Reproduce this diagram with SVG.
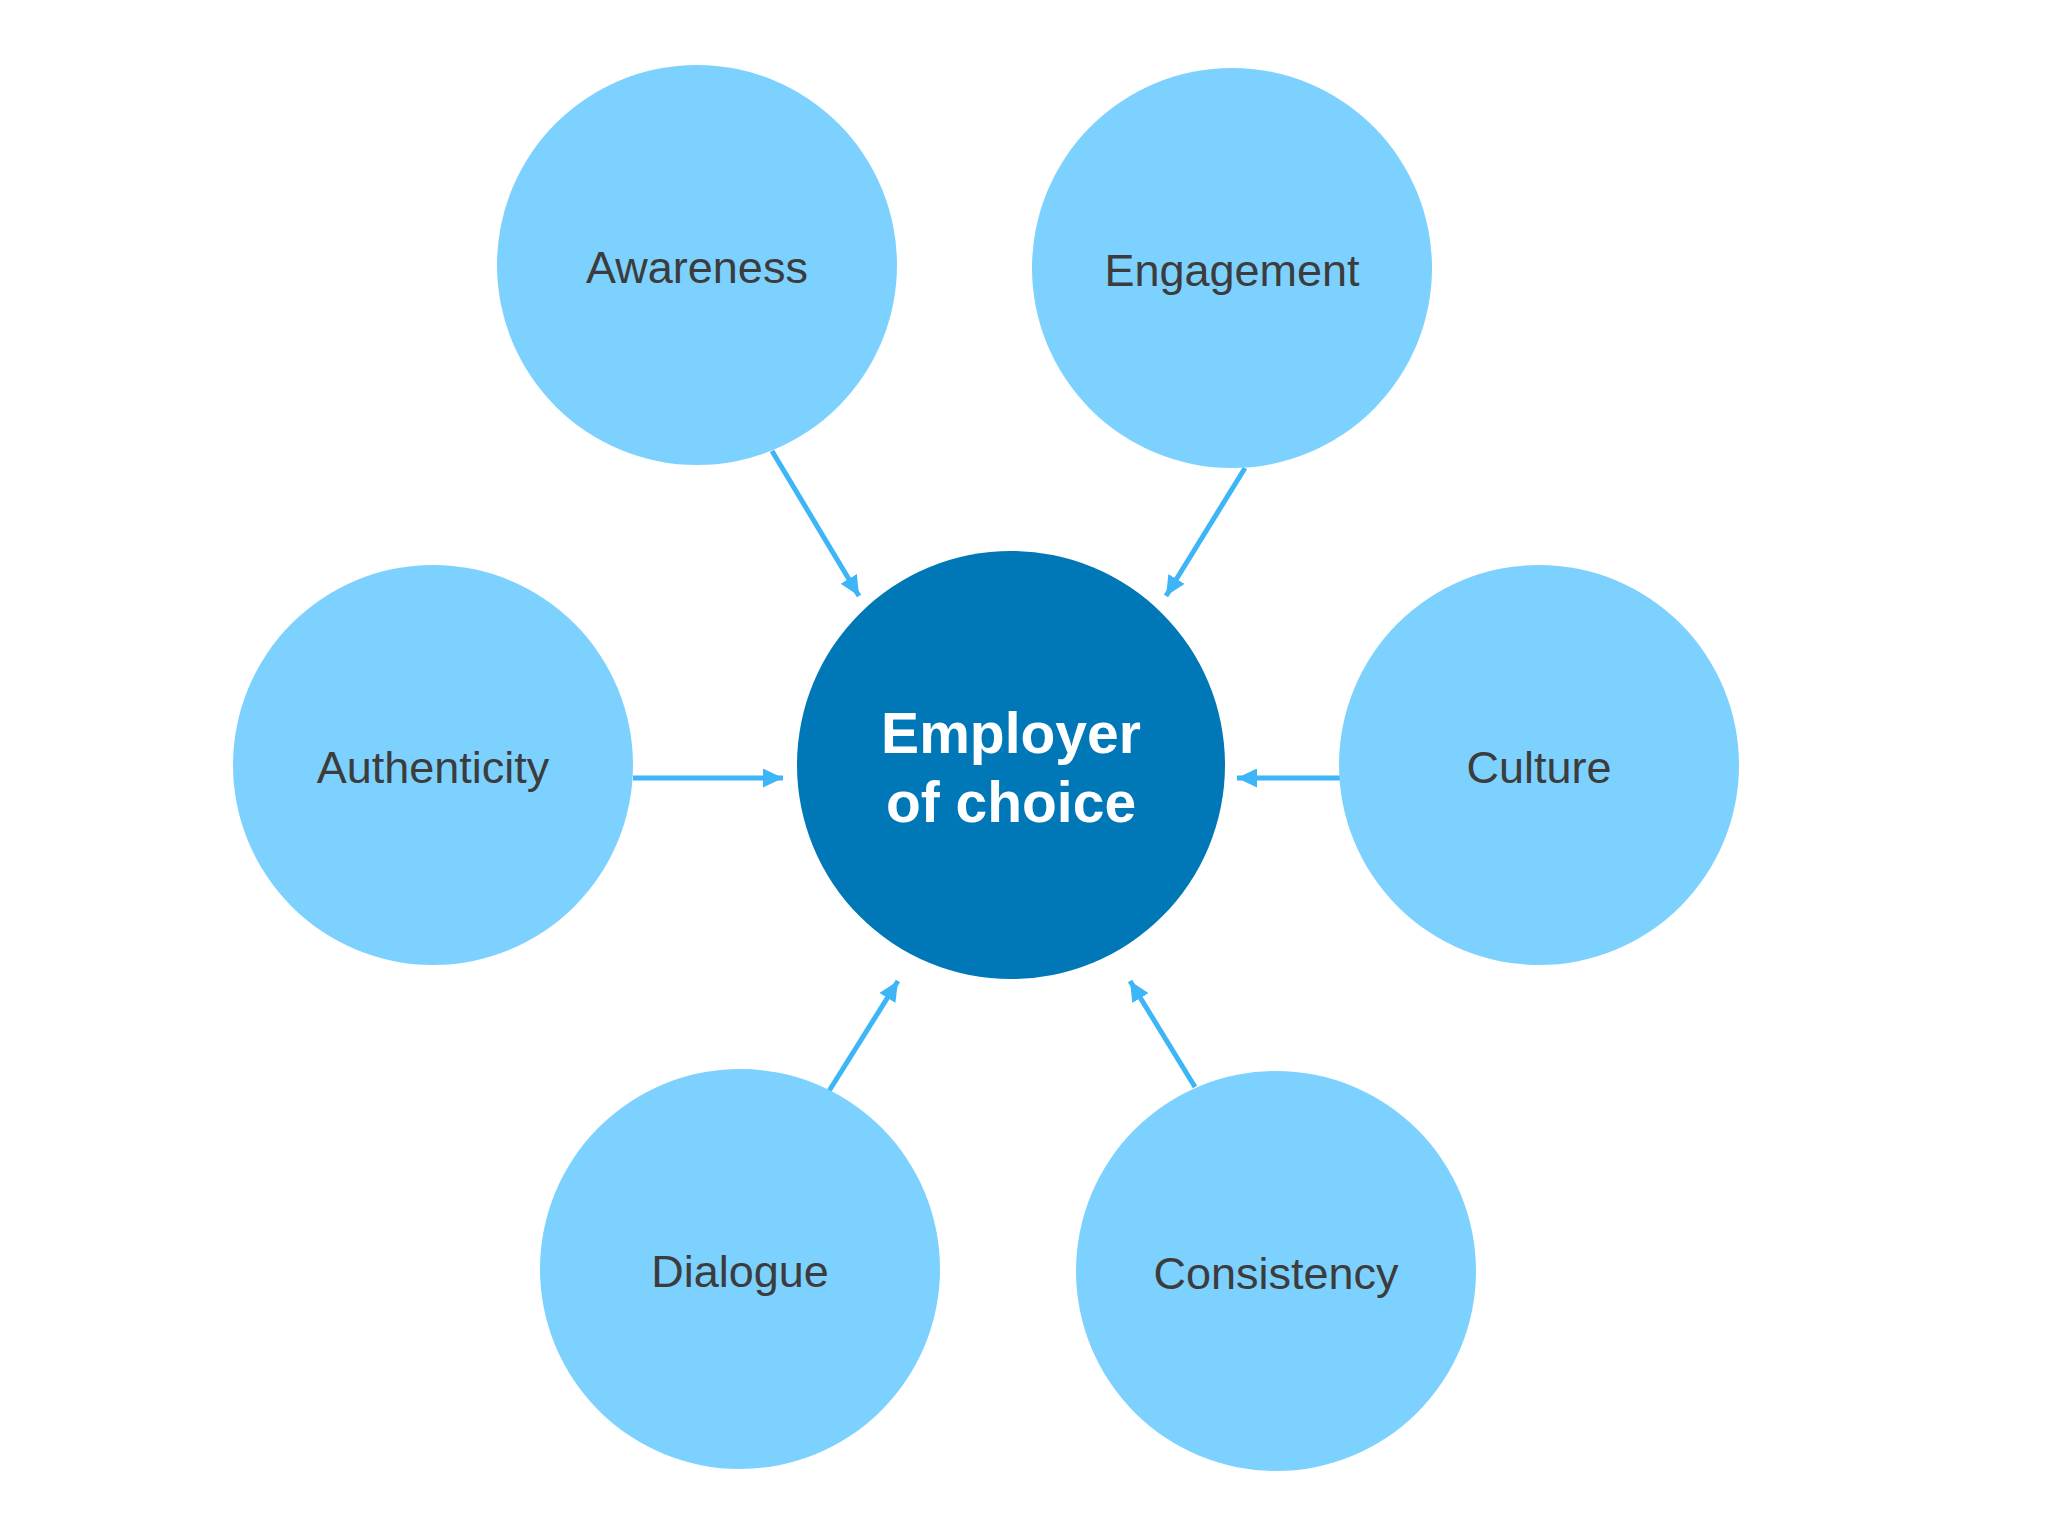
<svg xmlns="http://www.w3.org/2000/svg" width="2048" height="1536" viewBox="0 0 2048 1536">
<style>
.sat{fill:#7DD1FE}
.hub{fill:#0077B6}
.lbl{font-family:"Liberation Sans",Arial,sans-serif;font-size:45px;fill:#3C3C3C;text-anchor:middle}
.hubt{font-family:"Liberation Sans",Arial,sans-serif;font-size:57px;font-weight:bold;fill:#FFFFFF;text-anchor:middle}
.conn{stroke:#3DB5F6;stroke-width:5;fill:none;marker-end:url(#arr)}
</style>
<defs>
<marker id="arr" markerUnits="userSpaceOnUse" markerWidth="21" markerHeight="19" refX="20" refY="9.5" orient="auto">
<path d="M0,0 L20,9.5 L0,19 Z" fill="#3DB5F6"/>
</marker>
</defs>
<rect width="2048" height="1536" fill="#FFFFFF"/>
<g id="connectors">
<line class="conn" x1="772" y1="451" x2="859" y2="596"/>
<line class="conn" x1="1245" y1="468" x2="1166" y2="596"/>
<line class="conn" x1="633" y1="778" x2="783" y2="778"/>
<line class="conn" x1="1340" y1="778" x2="1237" y2="778"/>
<line class="conn" x1="829" y1="1091" x2="898" y2="981"/>
<line class="conn" x1="1195" y1="1087" x2="1130" y2="981"/>
</g>
<g id="awareness">
<circle class="sat" cx="697" cy="265" r="200"/>
<text class="lbl" x="697" y="283">Awareness</text>
</g>
<g id="engagement">
<circle class="sat" cx="1232" cy="268" r="200"/>
<text class="lbl" x="1232" y="286">Engagement</text>
</g>
<g id="authenticity">
<circle class="sat" cx="433" cy="765" r="200"/>
<text class="lbl" x="433" y="783">Authenticity</text>
</g>
<g id="culture">
<circle class="sat" cx="1539" cy="765" r="200"/>
<text class="lbl" x="1539" y="783">Culture</text>
</g>
<g id="dialogue">
<circle class="sat" cx="740" cy="1269" r="200"/>
<text class="lbl" x="740" y="1287">Dialogue</text>
</g>
<g id="consistency">
<circle class="sat" cx="1276" cy="1271" r="200"/>
<text class="lbl" x="1276" y="1289">Consistency</text>
</g>
<g id="employer-of-choice">
<circle class="hub" cx="1011" cy="765" r="214"/>
<text class="hubt" x="1011" y="753">Employer</text>
<text class="hubt" x="1011" y="822">of choice</text>
</g>
</svg>
